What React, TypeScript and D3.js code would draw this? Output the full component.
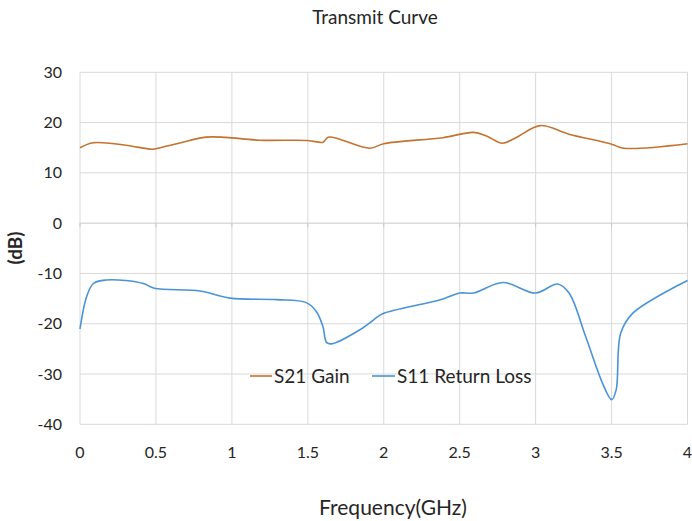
import React from "react";
import * as d3 from "d3";

const s21Freq = [0, 0.088, 0.3, 0.47, 0.5, 0.65, 0.83, 0.96, 1.18, 1.5, 1.6, 1.635, 1.908, 2.0, 2.39, 2.59, 2.68, 2.78, 2.87, 3.03, 3.22, 3.5, 3.58, 4.0];
const s21Gain = [15.0, 16.0, 15.5, 14.7, 14.8, 15.9, 17.1, 17.05, 16.5, 16.45, 16.1, 17.1, 14.9, 15.8, 17.0, 18.05, 17.3, 15.9, 17.0, 19.4, 17.7, 15.7, 14.9, 15.8];

const s11Freq = [0, 0.044, 0.088, 0.175, 0.3, 0.417, 0.49, 0.79, 0.987, 1.294, 1.49, 1.557, 1.6, 1.623, 1.656, 1.843, 1.975, 2.0, 2.39, 2.5, 2.59, 2.785, 3.0, 3.145, 3.22, 3.33, 3.44, 3.5, 3.53, 3.56, 3.64, 4.0];
const s11Loss = [-21.0, -14.6, -12.0, -11.3, -11.4, -12.0, -12.95, -13.5, -14.9, -15.2, -15.8, -17.6, -20.6, -23.7, -24.0, -21.2, -18.3, -17.9, -15.07, -13.9, -13.9, -11.8, -13.9, -12.1, -13.9, -22.6, -31.8, -35.1, -33.2, -21.9, -17.9, -11.4];

const xTicks = [0, 0.5, 1, 1.5, 2, 2.5, 3, 3.5, 4];
const yTicks = [30, 20, 10, 0, -10, -20, -30, -40];

const FONT = "Lato, 'Open Sans', sans-serif";

export default function App() {
  const W = 692, H = 521;
  const x = d3.scaleLinear().domain([0, 4]).range([80, 687.5]);
  const y = d3.scaleLinear().domain([-40, 30]).range([424.3, 72.3]);

  const line = d3.line<[number, number]>()
    .x(d => x(d[0]))
    .y(d => y(d[1]))
    .curve(d3.curveCatmullRom.alpha(0.5));

  const s21 = line(s21Freq.map((f, i) => [f, s21Gain[i]] as [number, number])) || "";
  const s11 = line(s11Freq.map((f, i) => [f, s11Loss[i]] as [number, number])) || "";

  const c21 = "#c4732f";
  const c11 = "#4a94d6";

  return (
    <svg width={W} height={H} style={{ position: "absolute", left: 0, top: 0, background: "#fff" }} fontFamily={FONT}>
      <rect x={0} y={0} width={W} height={H} fill="#fff" />
      <text x={375} y={24} textAnchor="middle" fontSize={19} fill="#262626">Transmit Curve</text>
      {yTicks.map(t => (
        <line key={"gy" + t} x1={x(0)} x2={x(4)} y1={y(t)} y2={y(t)} stroke={t === 0 ? "#c8c8c8" : "#d9d9d9"} strokeWidth={1} />
      ))}
      {xTicks.map(t => (
        <line key={"gx" + t} x1={x(t)} x2={x(t)} y1={y(30)} y2={y(-40)} stroke="#d9d9d9" strokeWidth={1} />
      ))}
      {xTicks.map(t => (
        <line key={"tk" + t} x1={x(t)} x2={x(t)} y1={y(0)} y2={y(0) + 4} stroke="#c8c8c8" strokeWidth={1} />
      ))}
      {yTicks.map(t => (
        <text key={"ly" + t} x={62} y={y(t)} dy="0.35em" textAnchor="end" fontSize={16} fill="#262626">{t}</text>
      ))}
      {xTicks.map(t => (
        <text key={"lx" + t} x={x(t)} y={452} dy="0.35em" textAnchor="middle" fontSize={16} fill="#262626">{String(t)}</text>
      ))}
      <text transform="translate(22,248) rotate(-90)" textAnchor="middle" fontSize={19} fontWeight="bold" fill="#262626">(dB)</text>
      <text x={393} y={508} dy="0.35em" textAnchor="middle" fontSize={21} fill="#262626">Frequency(GHz)</text>
      <path d={s21} fill="none" stroke={c21} strokeWidth={1.6} />
      <path d={s11} fill="none" stroke={c11} strokeWidth={1.6} />
      <line x1={250} x2={272} y1={376} y2={376} stroke={c21} strokeWidth={1.6} />
      <text x={274} y={376} dy="0.35em" fontSize={19} fill="#262626">S21 Gain</text>
      <line x1={372} x2={395} y1={376} y2={376} stroke={c11} strokeWidth={1.6} />
      <text x={397} y={376} dy="0.35em" fontSize={19} fill="#262626">S11 Return Loss</text>
    </svg>
  );
}
